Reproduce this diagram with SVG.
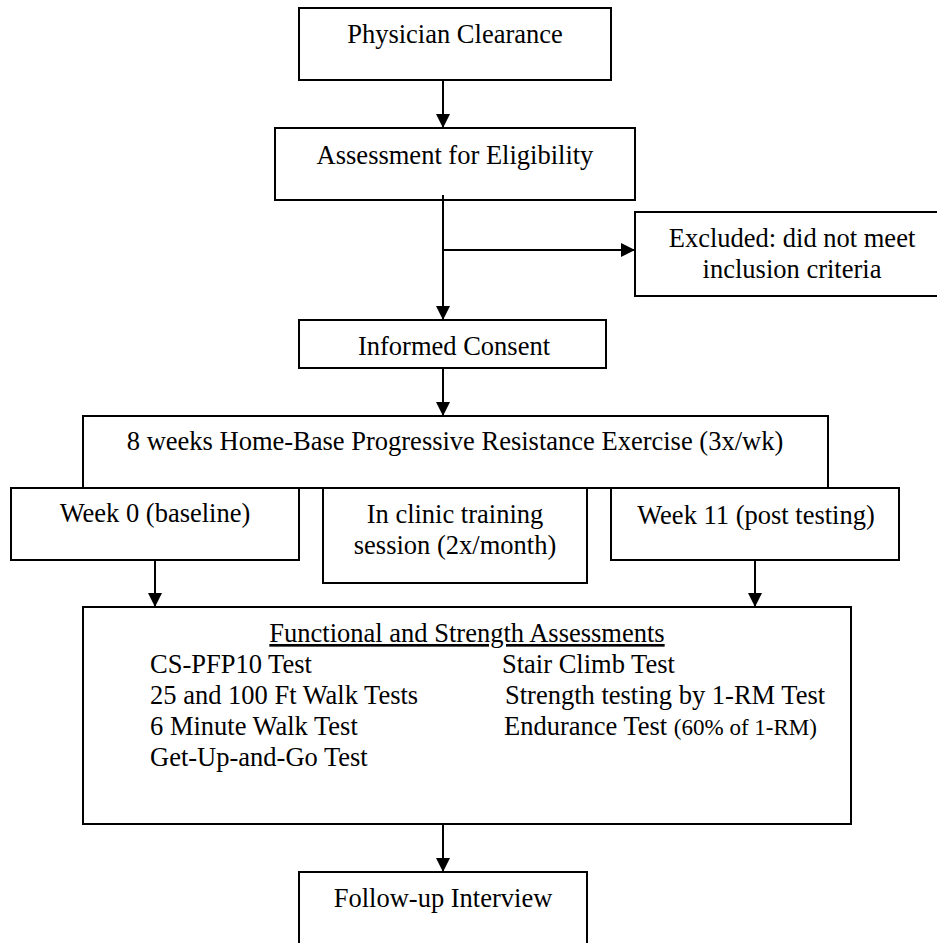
<svg xmlns="http://www.w3.org/2000/svg" width="937" height="943" viewBox="0 0 937 943">
<style>
.box{fill:#fff;stroke:#000;stroke-width:2}
.t{font-family:"Liberation Serif","Times New Roman",serif;font-size:26.5px;fill:#000}
.c{text-anchor:middle}
.conn{fill:none;stroke:#000;stroke-width:2}
.sm{font-size:23px}
</style>
<defs>
<marker id="ah" viewBox="0 0 10 10" refX="10" refY="5" markerWidth="14" markerHeight="14" markerUnits="userSpaceOnUse" orient="auto">
<path d="M0,0 L10,5 L0,10 z" fill="#000"/>
</marker>
</defs>
<rect width="937" height="943" fill="#fff"/>
<g id="physician">
<rect class="box" x="299" y="8" width="312" height="72"/>
<text class="t c" x="455" y="43">Physician Clearance</text>
</g>
<g id="assessment">
<rect class="box" x="275" y="128" width="360" height="72"/>
<text class="t c" x="455" y="164">Assessment for Eligibility</text>
</g>
<g id="excluded">
<rect class="box" x="635" y="212" width="303" height="84"/>
<text class="t c" x="792" y="247">Excluded: did not meet</text>
<text class="t c" x="792" y="278">inclusion criteria</text>
</g>
<g id="consent">
<rect class="box" x="299" y="320" width="307" height="48"/>
<text class="t c" x="454" y="355">Informed Consent</text>
</g>
<g id="program">
<rect class="box" x="83" y="416" width="745" height="72"/>
<text class="t c" x="455" y="450">8 weeks Home-Base Progressive Resistance Exercise (3x/wk)</text>
</g>
<g id="week0">
<rect class="box" x="11" y="488" width="288" height="72"/>
<text class="t c" x="155" y="522">Week 0 (baseline)</text>
</g>
<g id="clinic">
<rect class="box" x="323" y="488" width="264" height="95"/>
<text class="t c" x="455" y="523">In clinic training</text>
<text class="t c" x="455" y="554">session (2x/month)</text>
</g>
<g id="week11">
<rect class="box" x="611" y="488" width="288" height="72"/>
<text class="t c" x="756" y="524">Week 11 (post testing)</text>
</g>
<g id="assessments">
<rect class="box" x="83" y="607" width="768" height="217"/>
<text class="t c" x="467" y="642" text-decoration="underline">Functional and Strength Assessments</text>
<text class="t" x="150" y="673">CS-PFP10 Test</text>
<text class="t" x="150" y="704">25 and 100 Ft Walk Tests</text>
<text class="t" x="150" y="735">6 Minute Walk Test</text>
<text class="t" x="150" y="766">Get-Up-and-Go Test</text>
<text class="t" x="502" y="673">Stair Climb Test</text>
<text class="t" x="505" y="704">Strength testing by 1-RM Test</text>
<text class="t" x="504" y="735">Endurance Test <tspan class="sm">(60% of 1-RM)</tspan></text>
</g>
<g id="followup">
<rect class="box" x="299" y="872" width="288" height="80"/>
<text class="t c" x="443" y="907">Follow-up Interview</text>
</g>
<g id="connectors">
<line class="conn" x1="443" y1="80" x2="443" y2="128" marker-end="url(#ah)"/>
<line class="conn" x1="443" y1="195" x2="443" y2="320" marker-end="url(#ah)"/>
<line class="conn" x1="443" y1="250" x2="635" y2="250" marker-end="url(#ah)"/>
<line class="conn" x1="443" y1="368" x2="443" y2="416" marker-end="url(#ah)"/>
<line class="conn" x1="155" y1="560" x2="155" y2="607" marker-end="url(#ah)"/>
<line class="conn" x1="755" y1="560" x2="755" y2="607" marker-end="url(#ah)"/>
<line class="conn" x1="443" y1="824" x2="443" y2="872" marker-end="url(#ah)"/>
</g>
</svg>
